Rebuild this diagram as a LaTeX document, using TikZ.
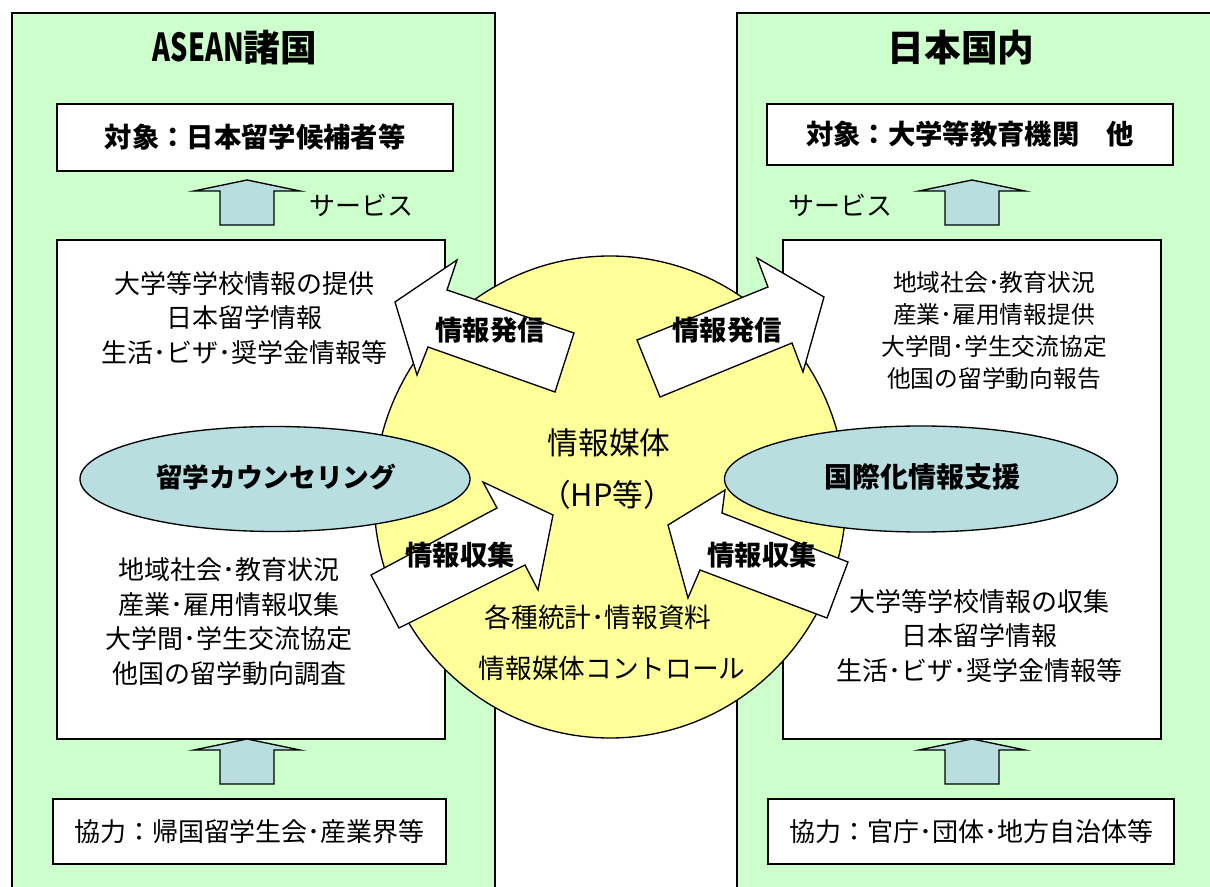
\documentclass[tikz,border=0pt]{standalone}
\usepackage{fontspec}
\usepackage{graphicx}
\setmainfont{Noto Sans CJK JP}
\usetikzlibrary{shapes.geometric}
\definecolor{panelgreen}{HTML}{CCFFCC}
\definecolor{lightblue}{HTML}{B8DEE0}
\definecolor{circyellow}{HTML}{FFFF99}
\tikzset{
  panel/.style={draw=black, fill=panelgreen, line width=1pt},
  whitebox/.style={draw=black, fill=white, line width=1pt, inner sep=0pt},
  bigarrow/.style={draw=black, fill=white, line width=1pt, line join=miter},
  uparrowshape/.style={draw=black, fill=lightblue, line width=1pt},
  blueell/.style={ellipse, draw=black, fill=lightblue, line width=1pt, inner sep=0pt},
  bodytext/.style={align=center, font=\fontsize{19.5}{25.9}\selectfont, inner sep=0pt},
  smalltext/.style={align=center, font=\fontsize{17.8}{24}\selectfont, inner sep=0pt},
  boldlabel/.style={font=\fontsize{20.5}{24}\selectfont\bfseries, inner sep=0pt},
  titletext/.style={font=\fontsize{27.5}{30}\selectfont\bfseries, inner sep=0pt},
  uparrow/.pic={\path[uparrowshape] (-27,45) -- (-27,11) -- (-53,11) -- (0,0) -- (53,11) -- (27,11) -- (27,45) -- cycle;}
}
\begin{document}
\begin{tikzpicture}[x=0.75pt,y=-0.75pt]
\useasboundingbox (0,0) rectangle (1210,887);
\clip (0,0) rectangle (1210,887);
\fill[white] (0,0) rectangle (1210,887);

% green panels
\path[panel] (12,13) rectangle (495,900);
\path[panel] (737,13) rectangle (1230,900);
\node[titletext] (titleL) at (235,48) {\scalebox{0.74}[1.05]{ASEAN}諸国};
\node[titletext] (titleR) at (961,48) {日本国内};

% top boxes
\node[whitebox, minimum width=396*0.75pt, minimum height=67*0.75pt, font=\fontsize{20.5}{24}\selectfont\bfseries] (targetL) at (255,137.5) {対象：日本留学候補者等};
\node[whitebox, minimum width=406*0.75pt, minimum height=61*0.75pt, font=\fontsize{20.5}{24}\selectfont\bfseries] (targetR) at (970,134.5) {対象：大学等教育機関\quad 他};

% service arrows
\pic at (247,180) {uparrow};
\pic at (972,180) {uparrow};
\node[bodytext] (servL) at (361,205) {サービス};
\node[bodytext] (servR) at (840,205) {サービス};

% middle boxes
\node[whitebox, minimum width=388*0.75pt, minimum height=499*0.75pt] (midL) at (251,489.5) {};
\node[whitebox, minimum width=378*0.75pt, minimum height=499*0.75pt] (midR) at (972,489.5) {};

% bottom arrows and boxes
\pic at (247,739) {uparrow};
\pic at (972,739) {uparrow};
\node[whitebox, minimum width=393*0.75pt, minimum height=65*0.75pt, font=\fontsize{19.5}{24}\selectfont] (coopL) at (249.5,831.5) {協力：帰国留学生会･産業界等};
\node[whitebox, minimum width=406*0.75pt, minimum height=65*0.75pt, font=\fontsize{19.5}{24}\selectfont] (coopR) at (971,831.5) {協力：官庁･団体･地方自治体等};

% texts inside middle boxes
\node[bodytext] (provL) at (244,318) {大学等学校情報の提供\\日本留学情報\\生活･ビザ･奨学金情報等};
\node[bodytext] (collL) at (229,621.5) {地域社会･教育状況\\産業･雇用情報収集\\大学間･学生交流協定\\他国の留学動向調査};
\node[smalltext] (provR) at (994,330.5) {地域社会･教育状況\\産業･雇用情報提供\\大学間･学生交流協定\\他国の留学動向報告};
\node[bodytext] (collR) at (979,636) {大学等学校情報の収集\\日本留学情報\\生活･ビザ･奨学金情報等};

% central circle
\node[ellipse, draw=black, fill=circyellow, line width=1pt, minimum width=472*0.75pt, minimum height=482*0.75pt, inner sep=0pt] (media) at (610,497) {};
\node[font=\fontsize{23}{26}\selectfont, inner sep=0pt] (mediaT) at (609,443) {情報媒体};
\node[font=\fontsize{23}{26}\selectfont, inner sep=0pt] (mediaH) at (607,495) {（HP等）};
\node[font=\fontsize{20}{24}\selectfont, inner sep=0pt] (stats) at (598,617) {各種統計･情報資料};
\node[font=\fontsize{20}{24}\selectfont, inner sep=0pt] (ctrl) at (612,668) {情報媒体コントロール};

% big arrows
\path[bigarrow] (395,302) -- (457,260) -- (447,290) -- (574,333) -- (555,392) -- (428,347) -- (417,375) -- cycle;
\path[bigarrow] (660,397) -- (637,340) -- (768,287) -- (757,258) -- (824,297) -- (803,372) -- (792,343) -- cycle;
\path[bigarrow] (371,575) -- (497,508) -- (483,482) -- (553,515) -- (538,590) -- (525,565) -- (399,628) -- cycle;
\path[bigarrow] (848,562) -- (722,513) -- (725,490) -- (668,525) -- (688,598) -- (700,570) -- (827,618) -- cycle;
\node[boldlabel] (sendL) at (490,330) {情報発信};
\node[boldlabel] (sendR) at (727,330) {情報発信};
\node[boldlabel] (gathL) at (460,555) {情報収集};
\node[boldlabel] (gathR) at (762,555) {情報収集};

% ellipses
\node[blueell, minimum width=390*0.75pt, minimum height=105*0.75pt] (counsel) at (275,479) {};
\node[boldlabel, font=\fontsize{20}{24}\selectfont\bfseries] (counselT) at (276,477) {留学カウンセリング};
\node[blueell, minimum width=393*0.75pt, minimum height=106*0.75pt] (support) at (921,479) {};
\node[boldlabel, font=\fontsize{21}{24}\selectfont\bfseries] (supportT) at (922,477) {国際化情報支援};
\end{tikzpicture}
\end{document}
